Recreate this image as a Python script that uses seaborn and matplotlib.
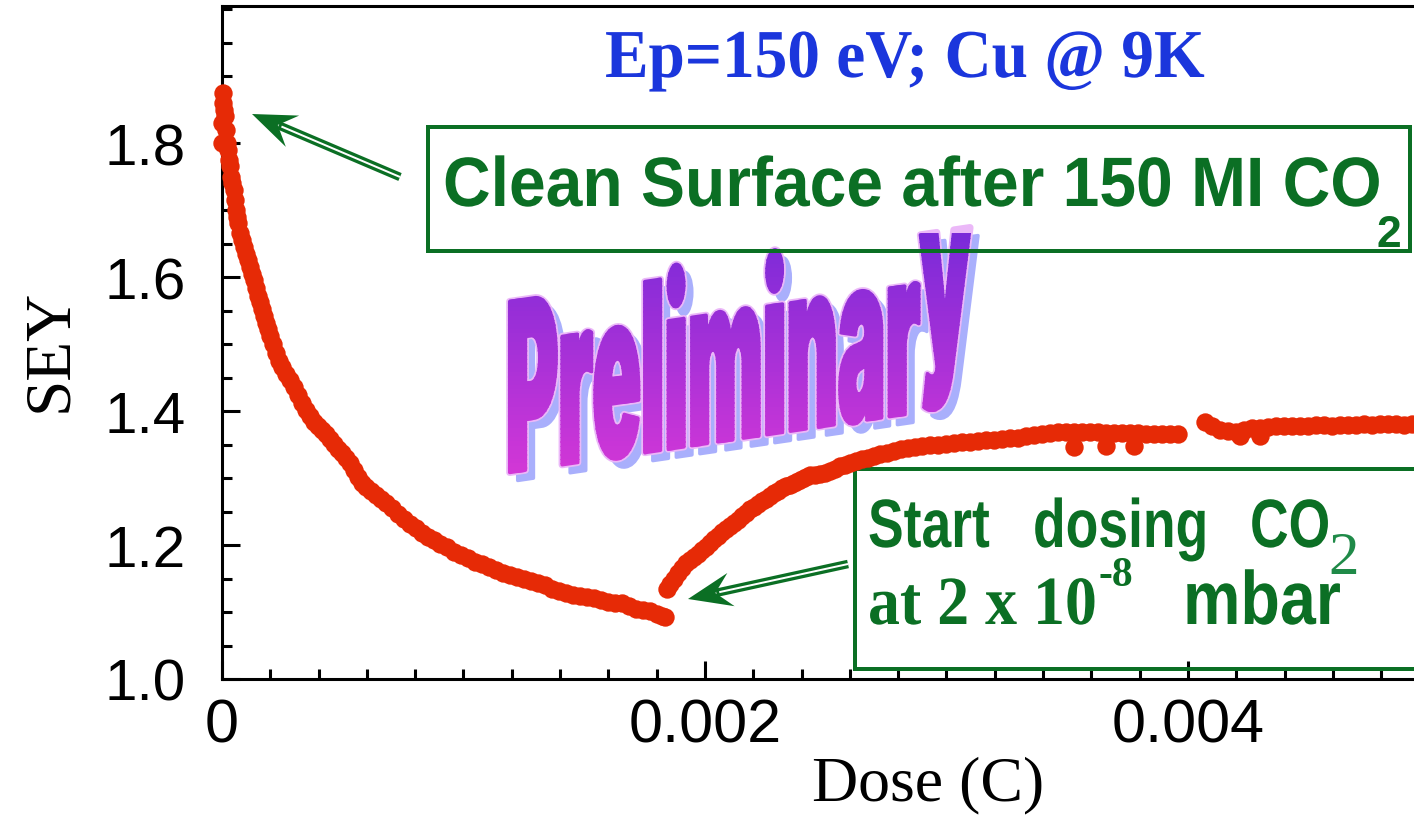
import numpy as np
import pandas as pd
import matplotlib
matplotlib.use("Agg")
import matplotlib.pyplot as plt
import matplotlib.colors as mcolors
import seaborn as sns
from matplotlib import font_manager as fm
from matplotlib.font_manager import FontProperties
from matplotlib.textpath import TextPath
from matplotlib.patches import Rectangle, Polygon
from matplotlib.path import Path
from matplotlib.transforms import Affine2D, Bbox
from matplotlib.ticker import MultipleLocator
from matplotlib.lines import Line2D
from matplotlib.patheffects import AbstractPathEffect

# ---------------------------------------------------------------- data
# SEY decay of the clean surface under the electron beam (dose in microcoulomb)
dose_decay_uC = [0, 0, 4, 4, 8, 12, 17, 21, 25, 29, 33, 37, 41, 50, 54, 58, 62, 66,
                 75, 83, 91, 99, 108, 116, 124, 133, 141, 149, 157, 166, 174, 182,
                 190, 199, 211, 224, 236, 248, 265, 282, 298, 315, 331, 348, 364,
                 381, 398, 414, 431, 447, 464, 480, 497, 513, 530, 547, 563, 580,
                 596, 617, 638, 658, 679, 704, 729, 754, 778, 803, 828, 853, 878,
                 903, 932, 961, 990, 1019, 1048, 1077, 1106, 1135, 1164, 1193, 1222,
                 1251, 1280, 1309, 1338, 1367, 1396, 1425, 1453, 1482, 1511, 1540,
                 1569, 1598, 1627, 1656, 1685, 1714, 1743, 1772, 1801, 1822, 1834]
sey_decay = [1.800, 1.830, 1.860, 1.875, 1.850, 1.840, 1.820, 1.800, 1.790, 1.775,
             1.765, 1.750, 1.740, 1.730, 1.715, 1.700, 1.690, 1.680, 1.665, 1.655,
             1.645, 1.635, 1.625, 1.615, 1.605, 1.595, 1.583, 1.572, 1.562, 1.552,
             1.542, 1.532, 1.522, 1.512, 1.500, 1.487, 1.475, 1.465, 1.455, 1.447,
             1.436, 1.424, 1.412, 1.401, 1.392, 1.384, 1.377, 1.371, 1.365, 1.358,
             1.351, 1.344, 1.338, 1.330, 1.322, 1.312, 1.302, 1.293, 1.286, 1.280,
             1.274, 1.268, 1.262, 1.255, 1.247, 1.239, 1.232, 1.225, 1.218, 1.212,
             1.207, 1.202, 1.197, 1.190, 1.185, 1.180, 1.175, 1.171, 1.167, 1.163,
             1.158, 1.155, 1.152, 1.149, 1.147, 1.144, 1.140, 1.135, 1.131, 1.128,
             1.126, 1.124, 1.122, 1.121, 1.118, 1.115, 1.114, 1.113, 1.109, 1.105,
             1.103, 1.101, 1.097, 1.094, 1.092]

# SEY recovery once CO2 dosing starts
dose_rise_uC = [1843, 1855, 1872, 1888, 1905, 1921, 1938, 1955, 1971, 1988, 2004,
                2021, 2037, 2054, 2071, 2087, 2104, 2120, 2137, 2153, 2170, 2187,
                2203, 2220, 2236, 2253, 2269, 2286, 2302, 2319, 2336, 2352, 2369,
                2385, 2402, 2418, 2435, 2456, 2476, 2497, 2518, 2538, 2559, 2580,
                2601, 2625, 2650, 2675, 2700, 2725, 2754, 2783, 2812, 2841, 2870,
                2899, 2932, 2965, 2998, 3031, 3064, 3097, 3131, 3164, 3197, 3230,
                3263, 3296, 3329, 3362, 3396, 3429, 3462, 3495, 3528, 3528, 3561,
                3594, 3627, 3661, 3661, 3694, 3727, 3760, 3777, 3793, 3826, 3859,
                3892, 3926, 3959, 4071, 4100, 4133, 4166, 4199, 4215, 4232, 4265,
                4298, 4298, 4332, 4365, 4398, 4431, 4464, 4497, 4530, 4563, 4597,
                4630, 4663, 4696, 4729, 4762, 4795, 4828, 4862, 4895, 4928]
sey_rise = [1.134, 1.142, 1.150, 1.158, 1.166, 1.173, 1.178, 1.182, 1.187, 1.192,
            1.197, 1.203, 1.209, 1.214, 1.219, 1.224, 1.228, 1.233, 1.238, 1.243,
            1.248, 1.253, 1.257, 1.261, 1.265, 1.269, 1.273, 1.277, 1.281, 1.285,
            1.288, 1.290, 1.292, 1.296, 1.299, 1.302, 1.304, 1.305, 1.306, 1.308,
            1.310, 1.314, 1.318, 1.320, 1.322, 1.325, 1.328, 1.330, 1.333, 1.336,
            1.338, 1.341, 1.343, 1.345, 1.346, 1.348, 1.349, 1.350, 1.351, 1.352,
            1.353, 1.354, 1.355, 1.356, 1.357, 1.358, 1.359, 1.360, 1.362, 1.364,
            1.366, 1.367, 1.368, 1.368, 1.347, 1.368, 1.368, 1.368, 1.368, 1.348,
            1.367, 1.367, 1.367, 1.367, 1.348, 1.367, 1.366, 1.366, 1.366, 1.366,
            1.366, 1.384, 1.378, 1.372, 1.370, 1.369, 1.362, 1.372, 1.374, 1.362,
            1.375, 1.376, 1.377, 1.377, 1.378, 1.378, 1.378, 1.379, 1.379, 1.378,
            1.379, 1.379, 1.379, 1.380, 1.379, 1.380, 1.380, 1.380, 1.379, 1.380]

x_major = [0, 0.002, 0.004]
x_major_labels = ["0", "0.002", "0.004"]
y_major = [1.0, 1.2, 1.4, 1.6, 1.8]
y_major_labels = ["1.0", "1.2", "1.4", "1.6", "1.8"]

# ---------------------------------------------------------------- style
W, H, DPI = 1414, 820, 100
GREEN = "#0b6f24"
GREEN_LIGHT = "#1f8a48"
BLUE = "#1b36dc"
RED = "#e62a06"
SANS = ["Liberation Sans", "DejaVu Sans"]
SERIF = ["Liberation Serif", "DejaVu Serif"]

sns.set_style("ticks")
plt.rcParams["font.family"] = SANS
plt.rcParams["axes.unicode_minus"] = False
for key in ("text.color", "axes.labelcolor", "xtick.color", "ytick.color",
            "axes.edgecolor"):
    plt.rcParams[key] = "black"


def pick_heavy_font():
    allowed = {"Roboto", "Roboto Black", "Lato", "Lato Black", "Lato Heavy", "Inter",
               "Inter Black", "Open Sans", "Open Sans ExtraBold", "Noto Sans",
               "Noto Sans Black", "DejaVu Sans", "Liberation Sans"}
    best, best_key = None, None
    for f in fm.fontManager.ttflist:
        if f.name not in allowed or f.style != "normal":
            continue
        if not f.fname.lower().endswith((".ttf", ".otf")):
            continue
        w = f.weight if isinstance(f.weight, (int, float)) else fm.weight_dict.get(str(f.weight), 400)
        cond = 1 if "condensed" in str(f.stretch) else 0
        key = (w, cond)
        if best_key is None or key > best_key:
            best, best_key = f.fname, key
    return best


class TallGlyphs(AbstractPathEffect):
    """Fill the glyphs stretched vertically about the baseline."""

    def __init__(self, yscale=1.0):
        super().__init__()
        self.yscale = yscale

    def draw_path(self, renderer, gc, tpath, affine, rgbFace=None):
        trans = Affine2D().scale(1.0, self.yscale) + affine
        renderer.draw_path(gc, tpath, trans, rgbFace)


class WordArt(AbstractPathEffect):
    """Tall, slanted glyphs with a drop shadow, light rim and vertical colour ramp."""

    def __init__(self, yscale, slope, n_front, lift, stroke_pt, shadow_px,
                 c_top, c_bot, y_top, y_bot, shadow_col, rim_col, nbands=60):
        super().__init__()
        self.yscale, self.slope = yscale, slope
        self.n_front, self.lift = n_front, lift
        self.stroke_pt, self.shadow_px = stroke_pt, shadow_px
        self.c_top, self.c_bot = np.array(c_top), np.array(c_bot)
        self.y_top, self.y_bot = y_top, y_bot
        self.shadow_col, self.rim_col = shadow_col, rim_col
        self.nbands = nbands

    def _gc(self, renderer, gc, lw, color):
        g = renderer.new_gc()
        g.copy_properties(gc)
        g.set_linewidth(lw)
        g.set_foreground(color)
        g.set_joinstyle("round")
        return g

    def draw_path(self, renderer, gc, tpath, affine, rgbFace=None):
        v = tpath.vertices.copy()
        if self.n_front < len(v):
            v[self.n_front:, 1] += self.lift
        path = Path(v, tpath.codes)
        trans = Affine2D().scale(1.0, self.yscale).skew(0, np.arctan(self.slope)) + affine

        sx, sy = self.shadow_px
        g = self._gc(renderer, gc, self.stroke_pt, self.shadow_col)
        renderer.draw_path(g, path, trans + Affine2D().translate(sx, sy),
                           mcolors.to_rgba(self.shadow_col))
        g.restore()

        g = self._gc(renderer, gc, self.stroke_pt + 2.6, self.rim_col)
        renderer.draw_path(g, path, trans, mcolors.to_rgba(self.rim_col))
        g.restore()

        dy = (self.y_bot - self.y_top) / self.nbands
        for i in range(self.nbands):
            y_hi = self.y_top + i * dy          # measured from the top edge
            t = np.clip((i + 0.5) / self.nbands, 0, 1)
            col = tuple(self.c_top * (1 - t) + self.c_bot * t) + (1.0,)
            g = self._gc(renderer, gc, self.stroke_pt, col)
            g.set_clip_rectangle(Bbox.from_extents(0, H - (y_hi + dy + 0.6), W,
                                                   H - (y_hi - 0.6)))
            renderer.draw_path(g, path, trans, col)
            g.restore()


df = pd.DataFrame({
    "dose": np.array(dose_decay_uC + dose_rise_uC) * 1e-6,
    "sey": sey_decay + sey_rise,
})

fig = plt.figure(figsize=(W / DPI, H / DPI), dpi=DPI)
fig.patch.set_facecolor("white")
ax = fig.add_axes([222 / W, 140 / H, 1192 / W, 673 / H])
ax.set_facecolor("white")

sns.scatterplot(data=df, x="dose", y="sey", color=RED, s=175, linewidth=0,
                ax=ax, zorder=5, legend=False, clip_on=False)

ax.set_xlim(0, 0.004936)
ax.set_ylim(1.0, 2.0045)
ax.set_xticks(x_major, labels=x_major_labels)
ax.set_yticks(y_major, labels=y_major_labels)
ax.xaxis.set_minor_locator(MultipleLocator(0.0002))
ax.yaxis.set_minor_locator(MultipleLocator(0.05))
ax.tick_params(which="both", direction="in", width=2.2, color="black",
               labelcolor="black", top=False, right=False)
ax.tick_params(which="major", length=13)
ax.tick_params(which="minor", length=7)
ax.tick_params(axis="y", which="major", labelsize=42, pad=26)
ax.tick_params(axis="x", which="major", labelsize=44, pad=13)
for lab in ax.get_xticklabels() + ax.get_yticklabels():
    lab.set_family(SANS)

for side in ("left", "bottom", "top"):
    ax.spines[side].set_linewidth(2.2)
    ax.spines[side].set_color("black")
ax.spines["right"].set_visible(False)

ax.set_xlabel("Dose (C)", fontsize=46, family=SERIF, color="black")
ax.xaxis.set_label_coords(0.592, -0.113)
ax.set_ylabel("SEY", fontsize=47, family=SERIF, color="black")
ax.yaxis.set_label_coords(-0.119, 0.49)

# pixel transform, image-style (origin top-left)
px = Affine2D().scale(1 / W, -1 / H).translate(0, 1) + fig.transFigure
PT = 0.72  # points per pixel at this dpi

# ---------------------------------------------------------------- "Preliminary" word art
heavy_file = pick_heavy_font()
word = "Preliminary"
probe = FontProperties(fname=heavy_file)
full = TextPath((0, 0), word, size=100, prop=probe)
front = TextPath((0, 0), word[:-1], size=100, prop=probe)
n_front = len(front.vertices)
lift = max(0.0, -full.vertices[n_front:, 1].min()) if n_front < len(full.vertices) else 0.0
xmin100, xmax100 = full.vertices[:, 0].min(), full.vertices[:, 0].max()
cap100 = TextPath((0, 0), "P", size=100, prop=probe).vertices[:, 1].max()
art_px = 464 / (xmax100 - xmin100) * 100            # font size in pixels
art_yscale = 171 / (cap100 * art_px / 100)
ax.text(506 - xmin100 * art_px / 100, 474, word, transform=px, ha="left",
        va="baseline", fontproperties=FontProperties(fname=heavy_file, size=art_px * PT),
        color="#a030d8", zorder=1.5,
        path_effects=[WordArt(art_yscale, 0.147, n_front, lift, 3.5 * PT, (8, -8),
                              (0.478, 0.165, 0.847), (0.855, 0.220, 0.840),
                              235, 495, "#a9affc", "#ebb8f8")])

# ---------------------------------------------------------------- annotations
ax.text(905, 78, "Ep=150 eV; Cu @ 9K", transform=px, ha="center", va="baseline",
        fontsize=47, fontweight="bold", family=SERIF, color=BLUE, zorder=3,
        path_effects=[TallGlyphs(1.05)])

# upper callout
ax.add_patch(Rectangle((428, 128), 982, 124, transform=px, fill=False,
                       edgecolor=GREEN, lw=4 * PT, zorder=2))
ax.text(443, 207, "Clean Surface after 150 MI CO", transform=px, ha="left",
        va="baseline", fontsize=47.5, fontweight="bold", family=SANS, color=GREEN,
        zorder=3, path_effects=[TallGlyphs(1.06)])
ax.text(1376, 247, "2", transform=px, ha="left", va="baseline", fontsize=32,
        fontweight="bold", family=SANS, color=GREEN, zorder=3)

# lower callout
ax.add_patch(Rectangle((855, 470), 600, 200, transform=px, fill=False,
                       edgecolor=GREEN, lw=4 * PT, zorder=2, clip_on=False))
for word_txt, x0 in (("Start", 868), ("dosing", 1033), ("CO", 1250)):
    ax.text(x0, 548, word_txt, transform=px, ha="left", va="baseline",
            fontsize=38.5, fontweight="bold", family=SANS, color=GREEN, zorder=3,
            path_effects=[TallGlyphs(1.28)])
ax.text(1328, 574, "2", transform=px, ha="left", va="baseline", fontsize=44,
        family=SERIF, color=GREEN_LIGHT, zorder=3)
ax.text(868, 625, "at 2 x 10", transform=px, ha="left", va="baseline",
        fontsize=46, fontweight="bold", family=SERIF, color=GREEN, zorder=3,
        path_effects=[TallGlyphs(1.08)])
ax.text(1099, 586, "-8", transform=px, ha="left", va="baseline",
        fontsize=30, fontweight="bold", family=SERIF, color=GREEN, zorder=3)
ax.text(1183, 625, "mbar", transform=px, ha="left", va="baseline",
        fontsize=46.5, fontweight="bold", family=SANS, color=GREEN, zorder=3,
        path_effects=[TallGlyphs(1.17)])


def double_arrow(tail, tip, head_len=44, head_half=17, notch=28):
    tail = np.asarray(tail, float)
    tip = np.asarray(tip, float)
    d = tail - tip
    u = d / np.hypot(*d)
    n = np.array([-u[1], u[0]])
    shaft_end = tip + u * (notch + 1)
    ax.add_line(Line2D([tail[0], shaft_end[0]], [tail[1], shaft_end[1]], transform=px,
                       color=GREEN, lw=8.5 * PT, solid_capstyle="butt", zorder=3))
    gap_end = tip + u * (notch + 4)
    ax.add_line(Line2D([tail[0], gap_end[0]], [tail[1], gap_end[1]], transform=px,
                       color="white", lw=2 * PT, solid_capstyle="butt", zorder=3.1))
    base = tip + u * head_len
    ax.add_patch(Polygon([tip, base + n * head_half, tip + u * notch, base - n * head_half],
                         closed=True, transform=px, facecolor=GREEN, edgecolor="none",
                         zorder=3.2))


double_arrow((400, 178), (252, 115))
double_arrow((848, 565), (688, 600))

fig.savefig("out.png", dpi=DPI)
